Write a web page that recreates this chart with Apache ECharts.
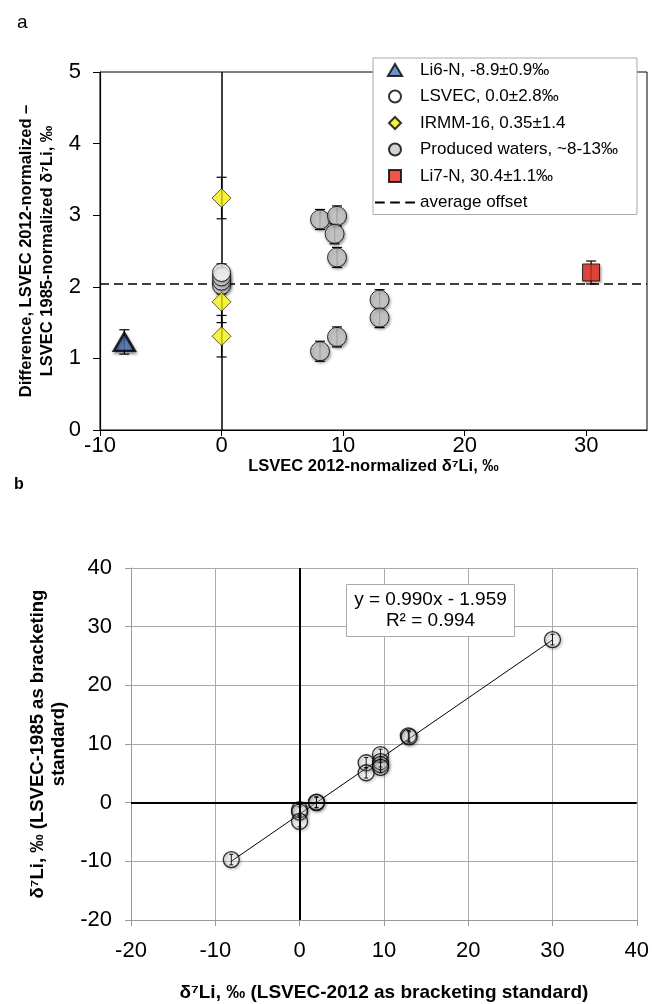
<!DOCTYPE html>
<html>
<head>
<meta charset="utf-8">
<script src="https://cdn.jsdelivr.net/npm/echarts@6/dist/echarts.min.js"></script>
<style>
html,body{margin:0;padding:0;background:#fff;}
#c{width:652px;height:1004px;}
</style>
</head>
<body>
<div id="c"></div>
<script>
// ---------- Panel a data ----------
const li6X = [-8.0];
const li6Y = [1.23];
const li6Err = [0.17];

const lsvecX = [0, 0, 0, 0];
const lsvecY = [2.02, 2.08, 2.14, 2.20];
const lsvecErr = [0.12, 0.12, 0.12, 0.12];

const irmmX = [0, 0, 0];
const irmmY = [3.24, 1.79, 1.31];
const irmmErr = [0.29, 0.29, 0.29];

const pwX = [8.1, 9.5, 9.3, 9.5, 13.0, 13.0, 8.1, 9.5];
const pwY = [2.94, 2.99, 2.74, 2.41, 1.82, 1.57, 1.10, 1.30];
const pwErr = [0.14, 0.14, 0.14, 0.14, 0.14, 0.14, 0.14, 0.14];

const li7X = [30.4];
const li7Y = [2.20];
const li7Err = [0.16];

const avgOffset = 2.04;

const legendNames = ['Li6-N, -8.9±0.9‰', 'LSVEC, 0.0±2.8‰', 'IRMM-16, 0.35±1.4', 'Produced waters, ~8-13‰', 'Li7-N, 30.4±1.1‰', 'average offset'];

// ---------- Panel b data ----------
const bX = [-8.1, 0, 0, 0, 2.0, 2.0, 7.9, 7.9, 9.6, 9.6, 9.6, 9.6, 12.9, 13.0, 30.0];
const bY = [-9.7, -1.2, -1.6, -3.2, 0.0, 0.1, 6.8, 5.1, 8.2, 7.0, 6.5, 6.0, 11.4, 11.2, 27.8];
const bErr = [0.9, 0.9, 0.9, 0.9, 0.9, 0.9, 0.9, 0.9, 0.9, 0.9, 0.9, 0.9, 0.9, 0.9, 0.9];
const fitSlope = 0.990;
const fitIntercept = -1.959;
const fitXRange = [-8.1, 30.0];
const fitLabel = 'y = 0.990x - 1.959\nR² = 0.994';

const zip = (xs, ys) => xs.map((x, i) => [x, ys[i]]);
const zip3 = (xs, ys, es) => xs.map((x, i) => [x, ys[i], es[i]]);

function makeErrRender(capHalf, lw) {
  return function (params, api) {
    const x = api.value(0), y = api.value(1), e = api.value(2);
    const top = api.coord([x, y + e]);
    const bot = api.coord([x, y - e]);
    const st = { stroke: '#000', lineWidth: lw };
    return {
      type: 'group',
      children: [
        { type: 'line', shape: { x1: top[0], y1: top[1], x2: bot[0], y2: bot[1] }, style: st },
        { type: 'line', shape: { x1: top[0] - capHalf, y1: top[1], x2: top[0] + capHalf, y2: top[1] }, style: st },
        { type: 'line', shape: { x1: bot[0] - capHalf, y1: bot[1], x2: bot[0] + capHalf, y2: bot[1] }, style: st }
      ]
    };
  };
}

const shadow = { shadowBlur: 3, shadowColor: 'rgba(0,0,0,0.45)', shadowOffsetX: 1, shadowOffsetY: 2 };
const FONT = 'Liberation Sans, Arial, sans-serif';

const ICON_TRI = 'path://M6.5,0L13,11L0,11Z';
const ICON_CIRC = 'path://M6,0A6,6,0,1,1,5.99,0Z';
const ICON_DIA = 'path://M6.5,0L13,6.5L6.5,13L0,6.5Z';
const ICON_RECT = 'path://M0,0H12V12H0Z';
const ICON_DASH = 'path://M0,0h9v2h-9zM14,0h9v2h-9zM28,0h9v2h-9z';

const chart = echarts.init(document.getElementById('c'), null, { renderer: 'canvas' });

const allErrA = [].concat(
  zip3(li6X, li6Y, li6Err), zip3(lsvecX, lsvecY, lsvecErr), zip3(irmmX, irmmY, irmmErr),
  zip3(pwX, pwY, pwErr), zip3(li7X, li7Y, li7Err)
);

const option = {
  animation: false,
  backgroundColor: '#fff',
  textStyle: { fontFamily: FONT },
  title: [
    { text: 'a', left: 12, top: 8, textStyle: { fontSize: 19, fontWeight: 'normal', color: '#000', fontFamily: FONT } },
    { text: 'b', left: 9, top: 472, textStyle: { fontSize: 16, fontWeight: 'bold', color: '#000', fontFamily: FONT } }
  ],
  grid: [
    { left: 100, top: 72, width: 547, height: 358, show: true, borderColor: '#000', borderWidth: 1, backgroundColor: 'transparent' },
    { left: 131, top: 568, width: 509, height: 352 }
  ],
  legend: {
    orient: 'vertical',
    left: 373, top: 58,
    padding: [3, 19, 3, 2],
    itemGap: 8.5,
    itemWidth: 40, itemHeight: 12,
    backgroundColor: '#fff',
    borderColor: '#aaa', borderWidth: 1,
    itemStyle: { shadowBlur: 0, shadowOffsetX: 0, shadowOffsetY: 0 },
    textStyle: { fontSize: 17, lineHeight: 18, color: '#000', fontFamily: FONT },
    data: [
      { name: legendNames[0], icon: ICON_TRI },
      { name: legendNames[1], icon: ICON_CIRC },
      { name: legendNames[2], icon: ICON_DIA },
      { name: legendNames[3], icon: ICON_CIRC },
      { name: legendNames[4], icon: ICON_RECT },
      { name: legendNames[5], icon: ICON_DASH }
    ]
  },
  xAxis: [
    {
      gridIndex: 0, type: 'value', min: -10, max: 35, interval: 10,
      name: 'LSVEC 2012-normalized δ⁷Li, ‰', nameLocation: 'middle', nameGap: 27,
      nameTextStyle: { fontSize: 16.5, fontWeight: 'bold', color: '#000', fontFamily: FONT },
      axisLine: { onZero: false, lineStyle: { color: '#000', width: 1.2 } },
      axisTick: { show: true, length: 6, lineStyle: { color: '#000' } },
      axisLabel: { fontSize: 22, color: '#000', margin: 5, showMaxLabel: false, fontFamily: FONT },
      splitLine: { show: false }
    },
    {
      gridIndex: 1, type: 'value', min: -20, max: 40, interval: 10,
      name: 'δ⁷Li, ‰ (LSVEC-2012 as bracketing standard)', nameLocation: 'middle', nameGap: 63,
      nameTextStyle: { fontSize: 19, fontWeight: 'bold', color: '#000', fontFamily: FONT },
      axisLine: { onZero: false, lineStyle: { color: '#999', width: 1 } },
      axisTick: { show: true, length: 6, lineStyle: { color: '#999' } },
      axisLabel: { fontSize: 22, color: '#000', margin: 20, fontFamily: FONT },
      splitLine: { show: true, lineStyle: { color: '#aaa', width: 1 } }
    }
  ],
  yAxis: [
    {
      gridIndex: 0, type: 'value', min: 0, max: 5, interval: 1,
      name: 'Difference, LSVEC 2012-normalized –\nLSVEC 1985-normalized δ⁷Li, ‰', nameLocation: 'middle', nameGap: 32,
      nameTextStyle: { fontSize: 16.5, fontWeight: 'bold', color: '#000', fontFamily: FONT, lineHeight: 21 },
      axisLine: { onZero: false, lineStyle: { color: '#000', width: 1.2 } },
      axisTick: { show: true, length: 7, lineStyle: { color: '#000' } },
      axisLabel: { fontSize: 22, color: '#000', margin: 19, fontFamily: FONT },
      splitLine: { show: false }
    },
    {
      gridIndex: 1, type: 'value', min: -20, max: 40, interval: 10,
      name: 'δ⁷Li, ‰ (LSVEC-1985 as bracketing\nstandard)', nameLocation: 'middle', nameGap: 46,
      nameTextStyle: { fontSize: 18.5, fontWeight: 'bold', color: '#000', fontFamily: FONT, lineHeight: 21 },
      axisLine: { onZero: false, lineStyle: { color: '#999', width: 1 } },
      axisTick: { show: true, length: 6, lineStyle: { color: '#999' } },
      axisLabel: { fontSize: 22, color: '#000', margin: 19, fontFamily: FONT },
      splitLine: { show: true, lineStyle: { color: '#aaa', width: 1 } }
    }
  ],
  series: [
    {
      type: 'line', xAxisIndex: 0, yAxisIndex: 0, data: [], silent: true,
      markLine: { silent: true, symbol: 'none', label: { show: false }, lineStyle: { color: '#000', width: 1.5, type: 'solid' }, data: [{ xAxis: 0 }] }
    },
    {
      name: legendNames[5], type: 'line', xAxisIndex: 0, yAxisIndex: 0,
      data: [[-10, avgOffset], [35, avgOffset]], symbol: 'none', silent: true,
      lineStyle: { color: '#000', width: 1.5, type: [9, 5] }, itemStyle: { color: '#000' }, z: 2
    },
    {
      type: 'custom', xAxisIndex: 0, yAxisIndex: 0, renderItem: makeErrRender(5, 1.2), data: allErrA, z: 3, silent: true
    },
    {
      name: legendNames[0], type: 'scatter', xAxisIndex: 0, yAxisIndex: 0, data: zip(li6X, li6Y),
      symbol: 'triangle', symbolSize: [21, 18], z: 5,
      itemStyle: Object.assign({ color: '#4a74bd', borderColor: '#000', borderWidth: 2.5 }, shadow)
    },
    {
      name: legendNames[1], type: 'scatter', xAxisIndex: 0, yAxisIndex: 0, data: zip(lsvecX, lsvecY),
      symbol: 'circle', symbolSize: 18, z: 5,
      itemStyle: Object.assign({ color: '#fff', borderColor: '#000', borderWidth: 1 }, shadow)
    },
    {
      name: legendNames[2], type: 'scatter', xAxisIndex: 0, yAxisIndex: 0, data: zip(irmmX, irmmY),
      symbol: 'diamond', symbolSize: [19, 19], z: 6,
      itemStyle: { color: '#f5ee12', borderColor: '#000', borderWidth: 0.8 }
    },
    {
      name: legendNames[3], type: 'scatter', xAxisIndex: 0, yAxisIndex: 0, data: zip(pwX, pwY),
      symbol: 'circle', symbolSize: 19, z: 5,
      itemStyle: Object.assign({ color: '#c8c8c8', borderColor: '#000', borderWidth: 1 }, shadow)
    },
    {
      name: legendNames[4], type: 'scatter', xAxisIndex: 0, yAxisIndex: 0, data: zip(li7X, li7Y),
      symbol: 'rect', symbolSize: 17, z: 5,
      itemStyle: Object.assign({ color: '#ec2a1f', borderColor: '#000', borderWidth: 1 }, shadow)
    },
    // ---------- panel b ----------
    {
      type: 'line', xAxisIndex: 1, yAxisIndex: 1, data: [], silent: true,
      markLine: { silent: true, symbol: 'none', label: { show: false }, lineStyle: { color: '#000', width: 2, type: 'solid' }, data: [{ xAxis: 0 }, { yAxis: 0 }] }
    },
    {
      type: 'line', xAxisIndex: 1, yAxisIndex: 1, symbol: 'none', silent: true, z: 3,
      data: fitXRange.map(x => [x, fitSlope * x + fitIntercept]),
      lineStyle: { color: '#000', width: 1 }
    },
    {
      type: 'scatter', xAxisIndex: 1, yAxisIndex: 1, data: zip(bX, bY),
      symbol: 'circle', symbolSize: 16, z: 4,
      itemStyle: { color: 'rgba(255,255,255,0.25)', borderColor: '#000', borderWidth: 1.3, shadowBlur: 3, shadowColor: 'rgba(0,0,0,0.45)', shadowOffsetX: 1, shadowOffsetY: 1 }
    },
    {
      type: 'custom', xAxisIndex: 1, yAxisIndex: 1, renderItem: makeErrRender(2, 0.9), data: zip3(bX, bY, bErr), z: 5, silent: true
    }
  ],
  graphic: [
    {
      type: 'group', left: 346, top: 584, z: 100,
      children: [
        { type: 'rect', z: 100, shape: { x: 0, y: 0, width: 168, height: 52 }, style: { fill: '#fff', stroke: '#aaa', lineWidth: 1 } },
        { type: 'text', z: 101, x: 84, y: 26, style: { text: fitLabel, fill: '#000', font: '19px ' + FONT, align: 'center', verticalAlign: 'middle', lineHeight: 21 } }
      ]
    }
  ]
};
chart.setOption(option);
</script>
</body>
</html>
